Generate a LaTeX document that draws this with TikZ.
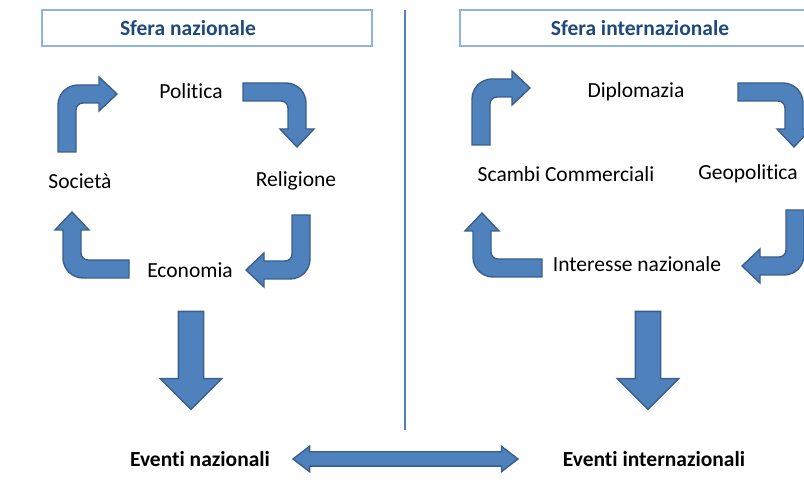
\documentclass[tikz,border=0pt]{standalone}
\usepackage{fontspec}
\setmainfont{Carlito}[Ligatures={NoCommon,NoContextual,NoRequired}, RawFeature={-liga;-clig;-calt}]
\usetikzlibrary{shapes.arrows, positioning}

\definecolor{arrowfill}{HTML}{4F81BD}
\definecolor{arrowline}{HTML}{3A5F8C}
\definecolor{titleline}{HTML}{8EB4E3}
\definecolor{titletext}{HTML}{1F497D}

\tikzset{
  txt/.style={font=\fontsize{21.5}{26}\selectfont, inner sep=0pt},
  boldtxt/.style={txt, font=\fontsize{21.5}{26}\selectfont\bfseries},
  titlebox/.style={draw=titleline, line width=1.3pt, minimum height=36, inner sep=0pt},
  blockarrow/.style={fill=arrowfill, draw=arrowline, line width=1.4pt},
  downarrow/.style={blockarrow, single arrow, rotate=-90, minimum height=98,
    text height=12, text depth=12, text width=0pt, single arrow head extend=18, inner sep=0pt},
  linkarrow/.style={blockarrow, double arrow, minimum height=225,
    text height=6.5, text depth=6.5, text width=0pt,
    double arrow head extend=5.5, double arrow tip angle=75, inner sep=0pt},
  % bent block arrow: first leg #1 upwards, then #2 to the right
  pics/bent/.style 2 args={code={
    \path[blockarrow] (-9,0) -- (-9,#1-11) arc[start angle=180, end angle=90, radius=20]
      -- (#2-18,#1+9) -- (#2-18,#1+17) -- (#2,#1) -- (#2-18,#1-17) -- (#2-18,#1-9)
      -- (16,#1-9) arc[start angle=90, end angle=180, radius=7] -- (9,0) -- cycle;
  }}
}

\begin{document}
\begin{tikzpicture}[x=1pt, y=1pt]
  \useasboundingbox (0,0) rectangle (804,498);
  \clip (0,0) rectangle (804,498);

  % titles
  \node[titlebox, minimum width=330] (boxnaz) at (207,470) {};
  \node[titlebox, minimum width=360] (boxint) at (640,470) {};
  \node[boldtxt, text=titletext] (titnaz) at (188,470) {Sfera nazionale};
  \node[boldtxt, text=titletext] (titint) at (640,470) {Sfera internazionale};

  % separator
  \coordinate (septop) at (405,488);
  \coordinate (sepbot) at (405,68);
  \draw[arrowfill, line width=2pt] (septop) -- (sepbot);

  % national cycle
  \node[txt] (pol) at (191,407) {Politica};
  \node[txt] (soc) at (80,317) {Società};
  \node[txt] (rel) at (296,317) {Religione};
  \node[txt] (eco) at (190,228) {Economia};
  \pic at (67,346) {bent={58}{50}};
  \pic[rotate=-90] at (243,406) {bent={54}{55}};
  \pic[rotate=180] at (301,283) {bent={55}{55}};
  \pic[rotate=90] at (129,229) {bent={57}{57}};

  % international cycle
  \node[txt] (dip) at (636,406) {Diplomazia};
  \node[txt] (scm) at (566,324) {Scambi Commerciali};
  \node[txt] (geo) at (748,324) {Geopolitica};
  \node[txt] (inn) at (637,234) {Interesse nazionale};
  \pic at (481,353) {bent={57}{49}};
  \pic[rotate=-90] at (738,406) {bent={56}{55}};
  \pic[rotate=180] at (795,288) {bent={56}{53}};
  \pic[rotate=90] at (542,230) {bent={60}{55}};

  % outcomes
  \node[downarrow] (downnaz) at (191,144) {};
  \node[downarrow] (downint) at (648,144) {};
  \node[boldtxt] (evnaz) at (200,39) {Eventi nazionali};
  \node[boldtxt] (evint) at (654,39) {Eventi internazionali};
  \node[linkarrow] (link) at (405.5,39) {};
\end{tikzpicture}
\end{document}
